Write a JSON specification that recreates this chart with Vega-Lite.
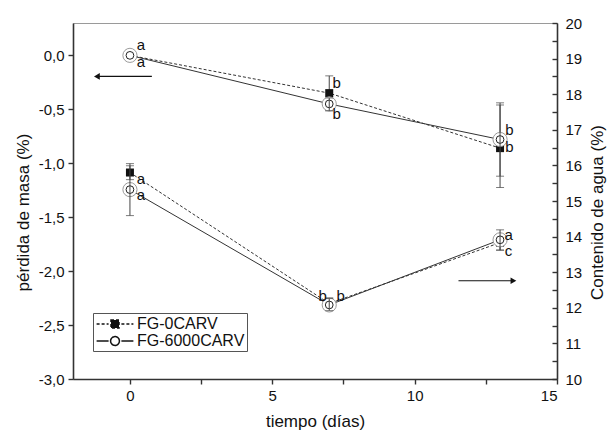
{
  "$schema": "https://vega.github.io/schema/vega-lite/v6.json",
  "width": 484,
  "height": 356,
  "autosize": {"type": "none"},
  "padding": {"left": 73, "top": 23, "right": 50, "bottom": 54},
  "config": {
    "font": "Liberation Sans",
    "view": {"stroke": "#9a9a9a", "strokeWidth": 1},
    "axis": {
      "grid": false,
      "domainColor": "#333",
      "domainWidth": 1.6,
      "tickColor": "#333",
      "tickWidth": 1.4,
      "tickSize": 5,
      "labelFontSize": 15,
      "labelColor": "#111",
      "labelOverlap": false,
      "titleFontSize": 17,
      "titleFontWeight": "normal",
      "titleColor": "#111",
      "labelFont": "Liberation Sans",
      "titleFont": "Liberation Sans"
    },
    "text": {"font": "Liberation Sans"}
  },
  "datasets": {
    "masa": [
      {"serie": "FG-0CARV", "tiempo": 0, "valor": 0, "lo": 0, "hi": 0},
      {"serie": "FG-0CARV", "tiempo": 7, "valor": -0.35, "lo": -0.51, "hi": -0.19},
      {"serie": "FG-0CARV", "tiempo": 13, "valor": -0.86, "lo": -1.225, "hi": -0.44},
      {"serie": "FG-6000CARV", "tiempo": 0, "valor": 0, "lo": 0, "hi": 0},
      {"serie": "FG-6000CARV", "tiempo": 7, "valor": -0.45, "lo": -0.515, "hi": -0.395},
      {"serie": "FG-6000CARV", "tiempo": 13, "valor": -0.78, "lo": -1.12, "hi": -0.46}
    ],
    "agua": [
      {"serie": "FG-0CARV", "tiempo": 0, "valor": 15.8, "lo": 15.6, "hi": 15.99},
      {"serie": "FG-0CARV", "tiempo": 7, "valor": 12.12, "lo": 11.96, "hi": 12.28},
      {"serie": "FG-0CARV", "tiempo": 13, "valor": 13.83, "lo": 13.62, "hi": 14.05},
      {"serie": "FG-6000CARV", "tiempo": 0, "valor": 15.32, "lo": 14.59, "hi": 16.05},
      {"serie": "FG-6000CARV", "tiempo": 7, "valor": 12.08, "lo": 11.92, "hi": 12.26},
      {"serie": "FG-6000CARV", "tiempo": 13, "valor": 13.91, "lo": 13.62, "hi": 14.19}
    ],
    "etiq_masa": [
      {"tiempo": 0.39, "valor": 0.093, "letra": "a"},
      {"tiempo": 0.39, "valor": -0.065, "letra": "a"},
      {"tiempo": 7.26, "valor": -0.26, "letra": "b"},
      {"tiempo": 7.26, "valor": -0.548, "letra": "b"},
      {"tiempo": 13.33, "valor": -0.696, "letra": "b"},
      {"tiempo": 13.33, "valor": -0.854, "letra": "b"}
    ],
    "etiq_agua": [
      {"tiempo": 0.39, "valor": 15.63, "letra": "a"},
      {"tiempo": 0.39, "valor": 15.18, "letra": "a"},
      {"tiempo": 6.77, "valor": 12.34, "letra": "b"},
      {"tiempo": 7.4, "valor": 12.34, "letra": "b"},
      {"tiempo": 13.3, "valor": 14.05, "letra": "a"},
      {"tiempo": 13.3, "valor": 13.6, "letra": "c"}
    ],
    "flecha_masa": [{"cola": 0.77, "punta": -1.16, "valor": -0.195}],
    "flecha_agua": [{"cola": 11.54, "punta": 13.47, "valor": 12.76}]
  },
  "layer": [
    {
      "layer": [
        {
          "data": {"name": "agua"},
          "transform": [{"filter": "datum.serie == 'FG-0CARV'"}],
          "mark": {"type": "line", "color": "#333", "strokeWidth": 1, "strokeDash": [3, 2]},
          "encoding": {
            "x": {
              "field": "tiempo", "type": "quantitative",
              "scale": {"domain": [-2, 15], "nice": false, "zero": false},
              "axis": {
                "title": "tiempo (días)",
                "values": [0, 2.5, 5, 7.5, 10, 12.5, 15],
                "labelExpr": "datum.value % 5 == 0 ? format(datum.value, 'd') : ''",
                "labelPadding": 4,
                "titlePadding": 10
              }
            },
            "y": {
              "field": "valor", "type": "quantitative",
              "scale": {"domain": [10, 20], "nice": false, "zero": false},
              "axis": {
                "orient": "right",
                "title": "Contenido de agua (%)",
                "values": [10, 10.5, 11, 11.5, 12, 12.5, 13, 13.5, 14, 14.5, 15, 15.5, 16, 16.5, 17, 17.5, 18, 18.5, 19, 19.5, 20],
                "tickCount": 21,
                "labelExpr": "datum.value % 1 == 0 ? format(datum.value, 'd') : ''",
                "labelOverlap": false,
                "tickSize": -5,
                "labelPadding": 13,
                "titleAngle": -90,
                "titleX": 49,
                "titleY": 189
              }
            }
          }
        },
        {
          "data": {"name": "agua"},
          "transform": [{"filter": "datum.serie == 'FG-6000CARV'"}],
          "mark": {"type": "line", "color": "#333", "strokeWidth": 1},
          "encoding": {
            "x": {"field": "tiempo", "type": "quantitative"},
            "y": {"field": "valor", "type": "quantitative"}
          }
        },
        {
          "data": {"name": "agua"},
          "transform": [{"filter": "datum.serie == 'FG-0CARV' && datum.hi > datum.lo"}],
          "mark": {"type": "rule", "color": "#444", "strokeWidth": 1},
          "encoding": {
            "x": {"field": "tiempo", "type": "quantitative"},
            "y": {"field": "lo", "type": "quantitative"},
            "y2": {"field": "hi"}
          }
        },
        {
          "data": {"name": "agua"},
          "transform": [{"filter": "datum.serie == 'FG-0CARV' && datum.hi > datum.lo"}],
          "mark": {"type": "tick", "orient": "horizontal", "color": "#444", "size": 8, "thickness": 1},
          "encoding": {
            "x": {"field": "tiempo", "type": "quantitative"},
            "y": {"field": "lo", "type": "quantitative"}
          }
        },
        {
          "data": {"name": "agua"},
          "transform": [{"filter": "datum.serie == 'FG-0CARV' && datum.hi > datum.lo"}],
          "mark": {"type": "tick", "orient": "horizontal", "color": "#444", "size": 8, "thickness": 1},
          "encoding": {
            "x": {"field": "tiempo", "type": "quantitative"},
            "y": {"field": "hi", "type": "quantitative"}
          }
        },
        {
          "data": {"name": "agua"},
          "transform": [{"filter": "datum.serie == 'FG-0CARV'"}],
          "mark": {"type": "point", "shape": "square", "filled": true, "color": "#111", "size": 64, "opacity": 1},
          "encoding": {
            "x": {"field": "tiempo", "type": "quantitative"},
            "y": {"field": "valor", "type": "quantitative"}
          }
        },
        {
          "data": {"name": "agua"},
          "transform": [{"filter": "datum.serie == 'FG-6000CARV'"}],
          "mark": {"type": "point", "shape": "circle", "fill": "white", "fillOpacity": 1, "stroke": "#9a9a9a", "strokeWidth": 1, "size": 200, "opacity": 1},
          "encoding": {
            "x": {"field": "tiempo", "type": "quantitative"},
            "y": {"field": "valor", "type": "quantitative"}
          }
        },
        {
          "data": {"name": "agua"},
          "transform": [{"filter": "datum.serie == 'FG-6000CARV'"}],
          "mark": {"type": "point", "shape": "circle", "fill": "white", "stroke": "#222", "strokeWidth": 1, "size": 60, "opacity": 1, "fillOpacity": 1},
          "encoding": {
            "x": {"field": "tiempo", "type": "quantitative"},
            "y": {"field": "valor", "type": "quantitative"}
          }
        },
        {
          "data": {"name": "agua"},
          "transform": [{"filter": "datum.serie == 'FG-6000CARV' && datum.hi > datum.lo"}],
          "mark": {"type": "rule", "color": "#444", "strokeWidth": 1},
          "encoding": {
            "x": {"field": "tiempo", "type": "quantitative"},
            "y": {"field": "lo", "type": "quantitative"},
            "y2": {"field": "hi"}
          }
        },
        {
          "data": {"name": "agua"},
          "transform": [{"filter": "datum.serie == 'FG-6000CARV' && datum.hi > datum.lo"}],
          "mark": {"type": "tick", "orient": "horizontal", "color": "#444", "size": 8, "thickness": 1},
          "encoding": {
            "x": {"field": "tiempo", "type": "quantitative"},
            "y": {"field": "lo", "type": "quantitative"}
          }
        },
        {
          "data": {"name": "agua"},
          "transform": [{"filter": "datum.serie == 'FG-6000CARV' && datum.hi > datum.lo"}],
          "mark": {"type": "tick", "orient": "horizontal", "color": "#444", "size": 8, "thickness": 1},
          "encoding": {
            "x": {"field": "tiempo", "type": "quantitative"},
            "y": {"field": "hi", "type": "quantitative"}
          }
        },
        {
          "data": {"name": "etiq_agua"},
          "mark": {"type": "text", "fontSize": 15, "color": "#111", "align": "center", "baseline": "middle"},
          "encoding": {
            "x": {"field": "tiempo", "type": "quantitative"},
            "y": {"field": "valor", "type": "quantitative"},
            "text": {"field": "letra"}
          }
        },
        {
          "data": {"name": "flecha_agua"},
          "mark": {"type": "rule", "color": "#111", "strokeWidth": 1.2},
          "encoding": {
            "x": {"field": "cola", "type": "quantitative"},
            "x2": {"field": "punta"},
            "y": {"field": "valor", "type": "quantitative"}
          }
        },
        {
          "data": {"name": "flecha_agua"},
          "mark": {"type": "point", "shape": "triangle-right", "filled": true, "color": "#111", "size": 45, "opacity": 1},
          "encoding": {
            "x": {"field": "punta", "type": "quantitative"},
            "y": {"field": "valor", "type": "quantitative"}
          }
        }
      ]
    },
    {
      "layer": [
        {
          "data": {"name": "masa"},
          "transform": [{"filter": "datum.serie == 'FG-0CARV'"}],
          "mark": {"type": "line", "color": "#333", "strokeWidth": 1, "strokeDash": [3, 2]},
          "encoding": {
            "x": {"field": "tiempo", "type": "quantitative"},
            "y": {
              "field": "valor", "type": "quantitative",
              "scale": {"domain": [-3, 0.3], "nice": false, "zero": false},
              "axis": {
                "orient": "left",
                "title": "pérdida de masa (%)",
                "values": [-3, -2.75, -2.5, -2.25, -2, -1.75, -1.5, -1.25, -1, -0.75, -0.5, -0.25, 0, 0.25],
                "labelExpr": "(datum.value * 2) % 1 == 0 ? (datum.value < 0 ? '-' : '') + replace(format(abs(datum.value), '.1f'), '.', ',') : ''",
                "labelOverlap": false,
                "labelPadding": 4,
                "titlePadding": 6,
                "titleY": 189
              }
            }
          }
        },
        {
          "data": {"name": "masa"},
          "transform": [{"filter": "datum.serie == 'FG-6000CARV'"}],
          "mark": {"type": "line", "color": "#333", "strokeWidth": 1},
          "encoding": {
            "x": {"field": "tiempo", "type": "quantitative"},
            "y": {"field": "valor", "type": "quantitative"}
          }
        },
        {
          "data": {"name": "masa"},
          "transform": [{"filter": "datum.serie == 'FG-0CARV' && datum.hi > datum.lo"}],
          "mark": {"type": "rule", "color": "#444", "strokeWidth": 1},
          "encoding": {
            "x": {"field": "tiempo", "type": "quantitative"},
            "y": {"field": "lo", "type": "quantitative"},
            "y2": {"field": "hi"}
          }
        },
        {
          "data": {"name": "masa"},
          "transform": [{"filter": "datum.serie == 'FG-0CARV' && datum.hi > datum.lo"}],
          "mark": {"type": "tick", "orient": "horizontal", "color": "#444", "size": 8, "thickness": 1},
          "encoding": {
            "x": {"field": "tiempo", "type": "quantitative"},
            "y": {"field": "lo", "type": "quantitative"}
          }
        },
        {
          "data": {"name": "masa"},
          "transform": [{"filter": "datum.serie == 'FG-0CARV' && datum.hi > datum.lo"}],
          "mark": {"type": "tick", "orient": "horizontal", "color": "#444", "size": 8, "thickness": 1},
          "encoding": {
            "x": {"field": "tiempo", "type": "quantitative"},
            "y": {"field": "hi", "type": "quantitative"}
          }
        },
        {
          "data": {"name": "masa"},
          "transform": [{"filter": "datum.serie == 'FG-0CARV'"}],
          "mark": {"type": "point", "shape": "square", "filled": true, "color": "#111", "size": 64, "opacity": 1},
          "encoding": {
            "x": {"field": "tiempo", "type": "quantitative"},
            "y": {"field": "valor", "type": "quantitative"}
          }
        },
        {
          "data": {"name": "masa"},
          "transform": [{"filter": "datum.serie == 'FG-6000CARV'"}],
          "mark": {"type": "point", "shape": "circle", "fill": "white", "fillOpacity": 1, "stroke": "#9a9a9a", "strokeWidth": 1, "size": 200, "opacity": 1},
          "encoding": {
            "x": {"field": "tiempo", "type": "quantitative"},
            "y": {"field": "valor", "type": "quantitative"}
          }
        },
        {
          "data": {"name": "masa"},
          "transform": [{"filter": "datum.serie == 'FG-6000CARV'"}],
          "mark": {"type": "point", "shape": "circle", "fill": "white", "stroke": "#222", "strokeWidth": 1, "size": 60, "opacity": 1, "fillOpacity": 1},
          "encoding": {
            "x": {"field": "tiempo", "type": "quantitative"},
            "y": {"field": "valor", "type": "quantitative"}
          }
        },
        {
          "data": {"name": "masa"},
          "transform": [{"filter": "datum.serie == 'FG-6000CARV' && datum.hi > datum.lo"}],
          "mark": {"type": "rule", "color": "#444", "strokeWidth": 1},
          "encoding": {
            "x": {"field": "tiempo", "type": "quantitative"},
            "y": {"field": "lo", "type": "quantitative"},
            "y2": {"field": "hi"}
          }
        },
        {
          "data": {"name": "masa"},
          "transform": [{"filter": "datum.serie == 'FG-6000CARV' && datum.hi > datum.lo"}],
          "mark": {"type": "tick", "orient": "horizontal", "color": "#444", "size": 8, "thickness": 1},
          "encoding": {
            "x": {"field": "tiempo", "type": "quantitative"},
            "y": {"field": "lo", "type": "quantitative"}
          }
        },
        {
          "data": {"name": "masa"},
          "transform": [{"filter": "datum.serie == 'FG-6000CARV' && datum.hi > datum.lo"}],
          "mark": {"type": "tick", "orient": "horizontal", "color": "#444", "size": 8, "thickness": 1},
          "encoding": {
            "x": {"field": "tiempo", "type": "quantitative"},
            "y": {"field": "hi", "type": "quantitative"}
          }
        },
        {
          "data": {"name": "etiq_masa"},
          "mark": {"type": "text", "fontSize": 15, "color": "#111", "align": "center", "baseline": "middle"},
          "encoding": {
            "x": {"field": "tiempo", "type": "quantitative"},
            "y": {"field": "valor", "type": "quantitative"},
            "text": {"field": "letra"}
          }
        },
        {
          "data": {"name": "flecha_masa"},
          "mark": {"type": "rule", "color": "#111", "strokeWidth": 1.2},
          "encoding": {
            "x": {"field": "punta", "type": "quantitative"},
            "x2": {"field": "cola"},
            "y": {"field": "valor", "type": "quantitative"}
          }
        },
        {
          "data": {"name": "flecha_masa"},
          "mark": {"type": "point", "shape": "triangle-left", "filled": true, "color": "#111", "size": 45, "opacity": 1},
          "encoding": {
            "x": {"field": "punta", "type": "quantitative"},
            "y": {"field": "valor", "type": "quantitative"}
          }
        }
      ]
    },
    {
      "data": {"values": [{"serie": "FG-0CARV"}, {"serie": "FG-6000CARV"}]},
      "transform": [{"filter": "false"}],
      "mark": {"type": "point", "filled": true, "stroke": "#111", "strokeWidth": 1, "opacity": 1},
      "encoding": {
        "shape": {
          "field": "serie", "type": "nominal",
          "scale": {
            "domain": ["FG-0CARV", "FG-6000CARV"],
            "range": [
              "M-2.3,0H-0.8M-0.5,-0.5H0.5V0.5H-0.5ZM0.8,0H2.3",
              "M-2.3,0H-0.8M-0.55,0A0.55,0.55,0,1,0,0.55,0A0.55,0.55,0,1,0,-0.55,0ZM0.8,0H2.3"
            ]
          },
          "legend": {
            "orient": "none", "legendX": 20, "legendY": 290, "title": null,
            "labelFontSize": 16, "labelColor": "#111", "labelFont": "Liberation Sans",
            "symbolSize": 256, "symbolOffset": 11, "labelOffset": 13,
            "padding": 2, "rowPadding": 0, "strokeColor": "#555", "fillColor": "white",
            "encode": {"symbols": {"update": {"stroke": {"value": "#111"}, "strokeWidth": {"value": 1}}}}
          }
        },
        "fill": {
          "field": "serie", "type": "nominal",
          "scale": {"domain": ["FG-0CARV", "FG-6000CARV"], "range": ["#111", "white"]},
          "legend": {
            "orient": "none", "legendX": 20, "legendY": 290, "title": null,
            "labelFontSize": 16, "labelColor": "#111", "labelFont": "Liberation Sans",
            "symbolSize": 256, "symbolOffset": 11, "labelOffset": 13,
            "padding": 2, "rowPadding": 0, "strokeColor": "#555", "fillColor": "white",
            "encode": {"symbols": {"update": {"stroke": {"value": "#111"}, "strokeWidth": {"value": 1}}}}
          }
        },
        "strokeDash": {
          "field": "serie", "type": "nominal",
          "scale": {"domain": ["FG-0CARV", "FG-6000CARV"], "range": [[3, 2], [1, 0]]},
          "legend": {
            "orient": "none", "legendX": 20, "legendY": 290, "title": null,
            "labelFontSize": 16, "labelColor": "#111", "labelFont": "Liberation Sans",
            "symbolSize": 256, "symbolOffset": 11, "labelOffset": 13,
            "padding": 2, "rowPadding": 0, "strokeColor": "#555", "fillColor": "white",
            "encode": {"symbols": {"update": {"stroke": {"value": "#111"}, "strokeWidth": {"value": 1}}}}
          }
        }
      }
    }
  ],
  "resolve": {"scale": {"y": "independent"}}
}
